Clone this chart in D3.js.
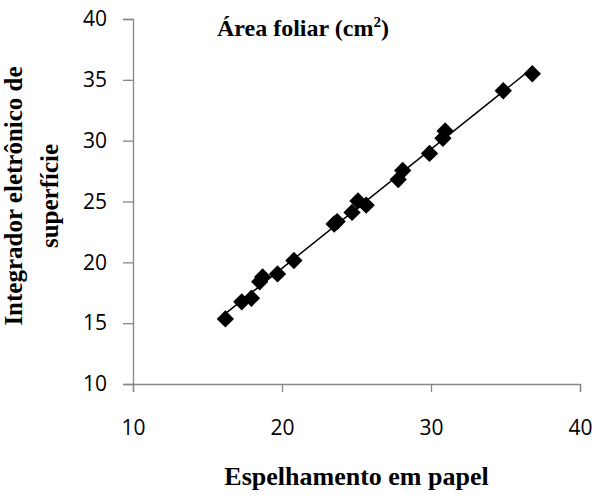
<!DOCTYPE html>
<html>
<head>
<meta charset="utf-8">
<script src="https://cdn.jsdelivr.net/npm/d3@7"></script>
<style>
  body { margin: 0; background: #fff; }
  .tick text { font-family: "Open Sans", sans-serif; font-size: 21px; fill: #000; }
  .ttl { font-family: "Liberation Serif", "Times New Roman", serif; font-weight: bold; fill: #000; }
</style>
</head>
<body>
<div id="chart"></div>
<script>
// values
var papel = [16.2, 17.3, 17.95, 18.5, 18.7, 19.7, 20.8, 23.5, 23.7, 24.7, 25.1, 25.65, 27.8, 28.1, 29.9, 30.8, 30.95, 34.85, 36.8];
var integrador = [15.35, 16.75, 17.05, 18.4, 18.8, 19.05, 20.15, 23.15, 23.35, 24.1, 25.05, 24.7, 26.8, 27.55, 28.95, 30.2, 30.8, 34.1, 35.5];
var xTicks = [10, 20, 30, 40];
var yTicks = [10, 15, 20, 25, 30, 35, 40];

var svgWidth = 592;
var svgHeight = 495;
var margin = {top: 19, right: 12, bottom: 111, left: 133};
var width = svgWidth - margin.left - margin.right;
var height = svgHeight - margin.top - margin.bottom;

var svg = d3.select("#chart")
  .append("svg")
  .attr("width", svgWidth)
  .attr("height", svgHeight);

var chartGroup = svg.append("g")
  .attr("transform", `translate(${margin.left}, ${margin.top})`);

var xScale = d3.scaleLinear().domain([10, 40]).range([0, width]);
var yScale = d3.scaleLinear().domain([10, 40]).range([height, 0]);

var bottomAxis = d3.axisBottom(xScale).tickValues(xTicks).tickSize(8).tickPadding(28);
var leftAxis = d3.axisLeft(yScale).tickValues(yTicks).tickSize(10).tickPadding(16);

var xg = chartGroup.append("g")
  .attr("transform", `translate(0, ${height})`)
  .call(bottomAxis);
var yg = chartGroup.append("g").call(leftAxis);

[xg, yg].forEach(function(g) {
  g.select(".domain").attr("stroke", "#868686").attr("stroke-width", 1.3);
  g.selectAll(".tick line").attr("stroke", "#868686").attr("stroke-width", 1.3);
});

// linear trend line
var data = papel.map(function(x, i) { return {x: x, y: integrador[i]}; });
var mx = d3.mean(papel), my = d3.mean(integrador);
var sxy = d3.sum(data, d => (d.x - mx) * (d.y - my));
var sxx = d3.sum(data, d => (d.x - mx) * (d.x - mx));
var slope = sxy / sxx, icpt = my - slope * mx;
var xExt = d3.extent(papel);

chartGroup.append("line")
  .attr("x1", xScale(xExt[0]))
  .attr("y1", yScale(icpt + slope * xExt[0]))
  .attr("x2", xScale(xExt[1]))
  .attr("y2", yScale(icpt + slope * xExt[1]))
  .attr("stroke", "#000")
  .attr("stroke-width", 1.5);

chartGroup.selectAll(".pt")
  .data(data)
  .enter()
  .append("path")
  .attr("class", "pt")
  .attr("d", d3.symbol().type(d3.symbolSquare).size(150))
  .attr("transform", d => `translate(${xScale(d.x)}, ${yScale(d.y)}) rotate(45)`)
  .attr("fill", "#000");

// titles
var title = svg.append("text")
  .attr("class", "ttl")
  .attr("x", 217)
  .attr("y", 36)
  .style("font-size", "24px");
title.append("tspan").text("Área foliar (cm");
title.append("tspan").attr("dy", -9).style("font-size", "15px").text("2");
title.append("tspan").attr("dy", 9).text(")");

svg.append("text")
  .attr("class", "ttl")
  .attr("x", margin.left + width / 2)
  .attr("y", 485)
  .attr("text-anchor", "middle")
  .style("font-size", "26px")
  .text("Espelhamento em papel");

var yTitle = svg.append("text")
  .attr("class", "ttl")
  .attr("transform", `translate(0, 196) rotate(-90)`)
  .attr("text-anchor", "middle")
  .style("font-size", "25px");
yTitle.append("tspan").attr("x", 0).attr("y", 22).text("Integrador eletrônico de");
yTitle.append("tspan").attr("x", 0).attr("y", 58).text("superfície");
</script>
</body>
</html>
